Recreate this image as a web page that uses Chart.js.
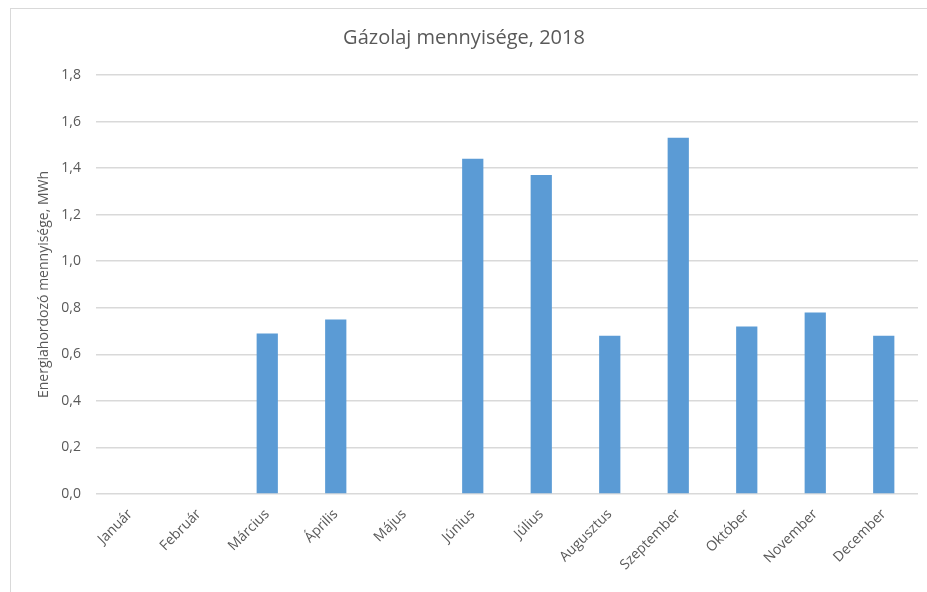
<!DOCTYPE html>
<html>
<head>
<meta charset="utf-8">
<script src="https://cdn.jsdelivr.net/npm/chart.js@4.4.0/dist/chart.umd.min.js"></script>
<style>
  html, body { margin: 0; padding: 0; background: #fff; }
  .frame { position: absolute; left: 10px; top: 8px; width: 940px; height: 600px; border: 1px solid #d9d9d9; }
  .chart { position: absolute; left: 0; top: 0; width: 927px; height: 592px; }
</style>
</head>
<body>
<div class="frame"></div>
<div class="chart"><canvas id="chartbox" width="927" height="592"></canvas></div>
<script>
// data
const months = ['Január', 'Február', 'Március', 'Április', 'Május', 'Június', 'Július', 'Augusztus', 'Szeptember', 'Október', 'November', 'December']
const values = [0, 0, 0.69, 0.75, 0, 1.44, 1.37, 0.68, 1.53, 0.72, 0.78, 0.68]
const yTicks = [0, 0.2, 0.4, 0.6, 0.8, 1.0, 1.2, 1.4, 1.6, 1.8]

const grey = '#595959'
const font = "'Open Sans', 'Noto Sans', sans-serif"

new Chart(document.querySelector('#chartbox'), {
  type: 'bar',
  data: {
    labels: months,
    datasets: [
      {
        label: 'Gázolaj',
        data: values,
        backgroundColor: '#5b9bd5',
        borderWidth: 0,
        barPercentage: 0.62,
        categoryPercentage: 0.5
      }
    ]
  },
  options: {
    responsive: false,
    animation: false,
    layout: { padding: { left: 10, right: 9, top: 0, bottom: 0 } },
    plugins: {
      legend: { display: false },
      tooltip: { enabled: false },
      title: {
        display: true,
        text: 'Gázolaj mennyisége, 2018',
        color: grey,
        font: { family: font, size: 20, weight: 'normal' },
        padding: { top: 26, bottom: 25 }
      }
    },
    scales: {
      x: {
        grid: { display: false },
        border: { display: false },
        ticks: {
          color: grey,
          font: { family: font, size: 14 },
          minRotation: 45,
          maxRotation: 45,
          padding: 4
        },
        afterFit: (scale) => { scale.height = 98 }
      },
      y: {
        min: 0,
        max: 1.8,
        afterBuildTicks: (scale) => { scale.ticks = yTicks.map(v => ({ value: v })) },
        grid: { color: '#d9d9d9', lineWidth: 1.5, drawTicks: false },
        border: { display: false },
        ticks: {
          color: grey,
          font: { family: font, size: 14 },
          padding: 15,
          callback: (v) => v.toFixed(1).replace('.', ',')
        },
        title: {
          display: true,
          text: 'Energiahordozó mennyisége, MWh',
          color: grey,
          font: { family: font, size: 14 },
          padding: { top: 26, bottom: 0 }
        },
        afterFit: (scale) => { scale.width = 86 }
      }
    }
  }
})
</script>
</body>
</html>
